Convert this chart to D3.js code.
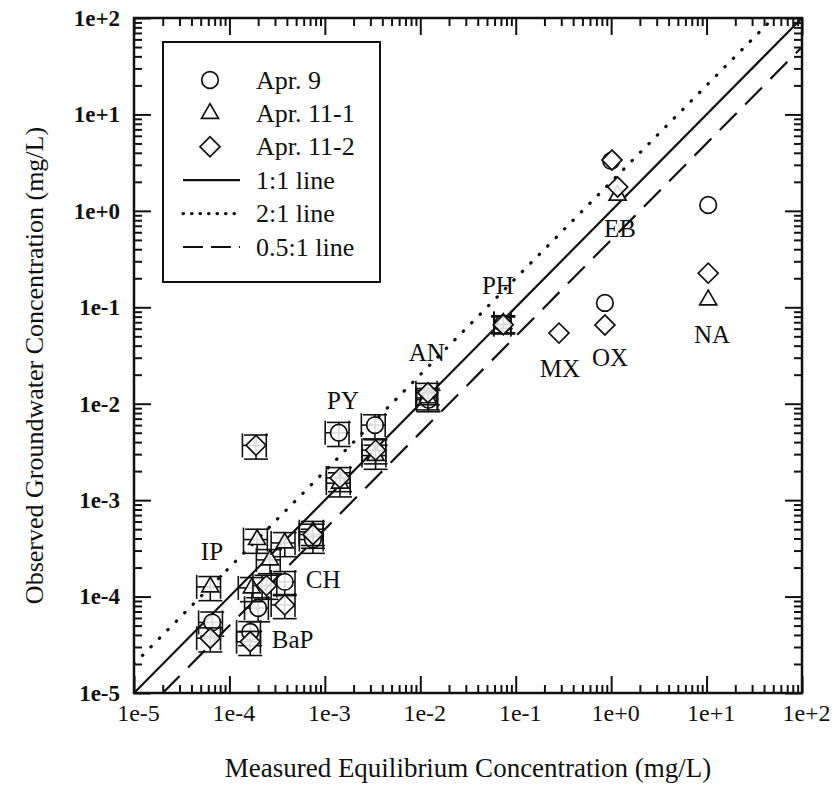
<!DOCTYPE html>
<html>
<head>
<meta charset="utf-8">
<script src="https://cdn.jsdelivr.net/npm/d3@7"></script>
<style>
  html, body { margin: 0; padding: 0; background: #fff; }
  svg { display: block; }
  text { font-family: "Liberation Serif", "Times New Roman", serif; fill: #111; }
</style>
</head>
<body>
<svg id="chart" width="836" height="793"></svg>
<script>
// ---------------- DATA ----------------
const decades = [1e-5, 1e-4, 1e-3, 1e-2, 1e-1, 1e0, 1e1, 1e2];
const tickLabels = ["1e-5", "1e-4", "1e-3", "1e-2", "1e-1", "1e+0", "1e+1", "1e+2"];

const seriesNames = ["Apr. 9", "Apr. 11-1", "Apr. 11-2"];
const lineNames = ["1:1 line", "2:1 line", "0.5:1 line"];
const lineRatios = [1, 2, 0.5];

// [measured x, observed y, relative error (0 = no error bars)]
const apr9 = [
  [6.6e-5, 5.4e-5, 0.28],
  [1.65e-4, 4.3e-5, 0.28],
  [2.0e-4, 7.6e-5, 0.28],
  [3.8e-4, 1.42e-4, 0.28],
  [7.5e-4, 3.9e-4, 0.28],
  [1.4e-3, 5.0e-3, 0.28],
  [3.35e-3, 6.0e-3, 0.28],
  [0.0122, 0.011, 0.25],
  [0.074, 0.068, 0.2],
  [0.86, 0.111, 0],
  [1.0, 3.3, 0],
  [10.4, 1.15, 0]
];
const apr11_1 = [
  [6.3e-5, 1.26e-4, 0.28],
  [1.72e-4, 1.23e-4, 0.28],
  [1.95e-4, 3.9e-4, 0.28],
  [2.66e-4, 2.4e-4, 0.28],
  [3.8e-4, 3.6e-4, 0.28],
  [7.5e-4, 4.7e-4, 0.28],
  [1.44e-3, 1.5e-3, 0.28],
  [3.4e-3, 2.9e-3, 0.28],
  [0.012, 0.0115, 0.25],
  [0.074, 0.068, 0.2],
  [1.17, 1.45, 0],
  [10.4, 0.119, 0]
];
const apr11_2 = [
  [6.3e-5, 3.7e-5, 0.28],
  [1.65e-4, 3.4e-5, 0.28],
  [1.9e-4, 3.7e-3, 0.28],
  [2.45e-4, 1.3e-4, 0.28],
  [3.8e-4, 8.2e-5, 0.28],
  [7.5e-4, 4.4e-4, 0.28],
  [1.44e-3, 1.7e-3, 0.28],
  [3.4e-3, 3.3e-3, 0.28],
  [0.012, 0.013, 0.25],
  [0.074, 0.066, 0.2],
  [0.284, 0.054, 0],
  [0.86, 0.0655, 0],
  [1.02, 3.37, 0],
  [1.17, 1.77, 0],
  [10.4, 0.226, 0]
];

// chemical labels at data-space anchor points
const labelText = ["IP", "BaP", "CH", "PY", "AN", "PH", "MX", "OX", "EB", "NA"];
const labelX = [6.56e-5, 4.6e-4, 9.6e-4, 1.55e-3, 0.0117, 0.065, 0.291, 0.973, 1.24, 11.4];
const labelY = [2.9e-4, 3.55e-5, 1.49e-4, 0.0109, 0.0336, 0.170, 0.0234, 0.0305, 0.664, 0.0517];

// ---------------- LAYOUT ----------------
const M = { left: 134, top: 18, width: 668, height: 675 };
const svg = d3.select("#chart");
const g = svg.append("g").attr("transform", `translate(${M.left},${M.top})`);

const x = d3.scaleLog().domain([1e-5, 1e2]).range([0, M.width]);
const y = d3.scaleLog().domain([1e-5, 1e2]).range([M.height, 0]);

const minors = [];
decades.slice(0, -1).forEach(d => { for (let k = 2; k <= 9; k++) minors.push(d * k); });

svg.append("defs").append("clipPath").attr("id", "clip")
  .append("rect").attr("width", M.width).attr("height", M.height);

function styleAxis(sel) {
  sel.select(".domain").remove();
  sel.selectAll("line").attr("stroke", "#111").attr("stroke-width", 2);
}

g.append("g").attr("transform", `translate(0,${M.height})`)
  .call(d3.axisBottom(x).tickValues(decades).tickSize(-17).tickSizeOuter(0).tickPadding(11)
    .tickFormat((d, i) => tickLabels[i]))
  .call(styleAxis)
  .call(s => s.selectAll("text").attr("font-size", 24).attr("font-family", "Liberation Serif").attr("fill", "#111").attr("dx", 4));
g.append("g").attr("transform", `translate(0,${M.height})`)
  .call(d3.axisBottom(x).tickValues(minors).tickSize(-8).tickFormat(""))
  .call(styleAxis);
g.append("g")
  .call(d3.axisTop(x).tickValues(decades).tickSize(-17).tickFormat(""))
  .call(styleAxis);
g.append("g")
  .call(d3.axisTop(x).tickValues(minors).tickSize(-8).tickFormat(""))
  .call(styleAxis);

g.append("g")
  .call(d3.axisLeft(y).tickValues(decades).tickSize(-17).tickSizeOuter(0).tickPadding(14)
    .tickFormat((d, i) => tickLabels[i]))
  .call(styleAxis)
  .call(s => s.selectAll("text").attr("font-size", 23).attr("font-weight", "bold").attr("font-family", "Liberation Serif").attr("fill", "#111"));
g.append("g")
  .call(d3.axisLeft(y).tickValues(minors).tickSize(-8).tickFormat(""))
  .call(styleAxis);
g.append("g").attr("transform", `translate(${M.width},0)`)
  .call(d3.axisRight(y).tickValues(decades).tickSize(-17).tickFormat(""))
  .call(styleAxis);
g.append("g").attr("transform", `translate(${M.width},0)`)
  .call(d3.axisRight(y).tickValues(minors).tickSize(-8).tickFormat(""))
  .call(styleAxis);

g.append("rect").attr("width", M.width).attr("height", M.height)
  .attr("fill", "none").attr("stroke", "#111").attr("stroke-width", 2.5);

const lineStyles = [
  { dash: null, w: 2.2, cap: "butt" },
  { dash: "0.5,11.5", w: 3.2, cap: "round" },
  { dash: "24,12", w: 2.2, cap: "butt" }
];
const lineGen = d3.line().x(d => x(d[0])).y(d => y(d[1]));
const plotArea = g.append("g").attr("clip-path", "url(#clip)");
lineRatios.forEach((r, i) => {
  const x0 = Math.max(1e-5, 1e-5 / r), x1 = Math.min(1e2, 1e2 / r);
  plotArea.append("path")
    .attr("d", lineGen([[x0, x0 * r], [x1, x1 * r]]))
    .attr("fill", "none").attr("stroke", "#111")
    .attr("stroke-width", lineStyles[i].w)
    .attr("stroke-linecap", lineStyles[i].cap)
    .attr("stroke-dasharray", lineStyles[i].dash);
});

const symbolPaths = [
  d3.symbol().type(d3.symbolCircle).size(Math.PI * 8.3 * 8.3)(),
  d3.symbol().type(d3.symbolTriangle).size(125)(),
  d3.symbol().type(d3.symbolSquare).size(200)()
];
const symbolRot = [0, 0, 45];

const allSeries = [apr9, apr11_1, apr11_2];
const CAP = 12;

allSeries.forEach((data, si) => {
  const layer = g.append("g");
  data.forEach(d => {
    const [vx, vy, e] = d;
    const px = x(vx), py = y(vy);
    if (e > 0) {
      const xl = x(vx * (1 - e)), xr = x(vx * (1 + e));
      const yt = y(vy * (1 + e)), yb = y(vy * (1 - e));
      const eb = layer.append("g").attr("stroke", "#111").attr("stroke-width", 1.6).attr("fill", "none");
      eb.append("line").attr("x1", xl).attr("x2", xr).attr("y1", py).attr("y2", py);
      eb.append("line").attr("x1", xl).attr("x2", xl).attr("y1", py - CAP).attr("y2", py + CAP);
      eb.append("line").attr("x1", xr).attr("x2", xr).attr("y1", py - CAP).attr("y2", py + CAP);
      eb.append("line").attr("x1", px).attr("x2", px).attr("y1", yt).attr("y2", yb);
      eb.append("line").attr("x1", px - CAP).attr("x2", px + CAP).attr("y1", yt).attr("y2", yt);
      eb.append("line").attr("x1", px - CAP).attr("x2", px + CAP).attr("y1", yb).attr("y2", yb);
    }
    layer.append("path")
      .attr("d", symbolPaths[si])
      .attr("transform", `translate(${px},${py}) rotate(${symbolRot[si]})`)
      .attr("fill", "#fff").attr("fill-opacity", 0.85)
      .attr("stroke", "#111").attr("stroke-width", 1.7);
  });
});

labelText.forEach((t, i) => {
  g.append("text")
    .attr("x", x(labelX[i])).attr("y", y(labelY[i]))
    .attr("text-anchor", "middle").attr("dominant-baseline", "central")
    .attr("font-size", 25)
    .text(t);
});

// legend
const lg = svg.append("g");
lg.append("rect").attr("x", 163).attr("y", 42).attr("width", 217).attr("height", 240)
  .attr("fill", "#fff").attr("stroke", "#111").attr("stroke-width", 2);
const rowY = i => 80 + i * 33.4;
seriesNames.forEach((n, i) => {
  lg.append("path").attr("d", symbolPaths[i])
    .attr("transform", `translate(210,${rowY(i)}) rotate(${symbolRot[i]})`)
    .attr("fill", "#fff").attr("stroke", "#111").attr("stroke-width", 1.7);
  lg.append("text").attr("x", 256).attr("y", rowY(i)).attr("dominant-baseline", "central")
    .attr("font-size", 26).text(n);
});
lineNames.forEach((n, i) => {
  const yy = rowY(i + 3);
  lg.append("line").attr("x1", 183).attr("x2", 240).attr("y1", yy).attr("y2", yy)
    .attr("stroke", "#111").attr("stroke-width", lineStyles[i].w)
    .attr("stroke-linecap", lineStyles[i].cap)
    .attr("stroke-dasharray", i === 1 ? "0.5,8" : (i === 2 ? "20,8" : null));
  lg.append("text").attr("x", 256).attr("y", yy).attr("dominant-baseline", "central")
    .attr("font-size", 26).text(n);
});

svg.append("text")
  .attr("x", M.left + M.width / 2).attr("y", 768)
  .attr("text-anchor", "middle").attr("dominant-baseline", "central")
  .attr("font-size", 27)
  .text("Measured Equilibrium Concentration (mg/L)");
svg.append("text")
  .attr("transform", `translate(34,${M.top + M.height / 2 + 10}) rotate(-90)`)
  .attr("text-anchor", "middle").attr("dominant-baseline", "central")
  .attr("font-size", 26)
  .text("Observed Groundwater Concentration (mg/L)");
</script>
</body>
</html>
